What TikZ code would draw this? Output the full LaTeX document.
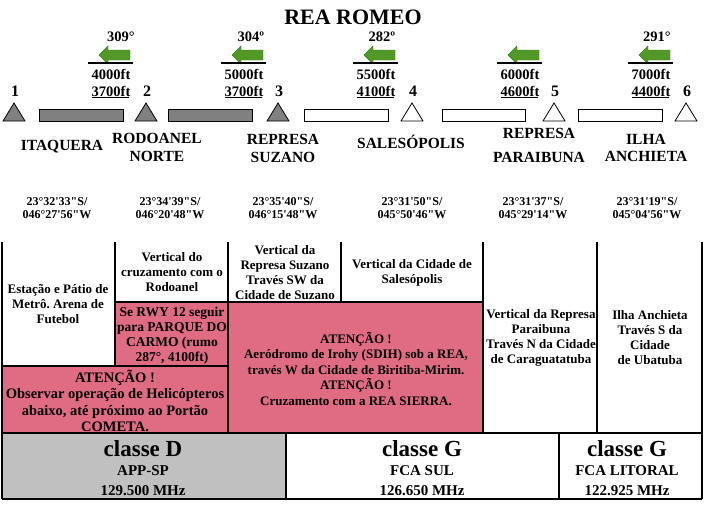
\documentclass[tikz,border=0pt]{standalone}
\usepackage{fontspec}
\setmainfont{Liberation Serif}[Ligatures=TeXOff]
\definecolor{pinkc}{RGB}{224,108,132}
\definecolor{grayc}{RGB}{192,192,192}
\definecolor{trig}{RGB}{128,128,128}
\definecolor{arrg}{RGB}{82,152,38}
\definecolor{arrd}{RGB}{58,118,30}
\newcommand\fsz[2]{\fontsize{#1}{#2}\selectfont\bfseries}
\frenchspacing
\begin{document}
\begin{tikzpicture}[x=1pt,y=-1pt,
  txt/.style={inner sep=0pt, align=center, font=\fsz{13}{15}},
  lbl/.style={inner sep=0pt, align=center, font=\fsz{15.5}{18}},
  crd/.style={inner sep=0pt, align=center, font=\fsz{12}{13.5}},
  ftt/.style={inner sep=0pt, font=\fsz{14.5}{17}},
  num/.style={inner sep=0pt, font=\fsz{16}{18}},
  tri/.style={draw=black, line width=0.8pt},
  barbox/.style={draw=black, line width=0.8pt},
  grid/.style={draw=black, line width=1.1pt},
  garrow/.style={fill=arrg, draw=arrd, line width=0.4pt},
  big/.style={inner sep=0pt, font=\fsz{23}{26}},
  mid/.style={inner sep=0pt, font=\fsz{15}{17}}]
\useasboundingbox (0,0) rectangle (707,506);

% title
\node[inner sep=0pt, font=\fsz{22}{24}] (title) at (353,17) {REA ROMEO};

% triangles and bars
\foreach \x/\c [count=\i] in {14/trig,146/trig,278/trig,412/white,554/white,686/white}{
  \draw[tri, fill=\c] (\x-11,121) -- (\x,103) -- (\x+11,121) -- cycle;
  \node[num] (n\i) at (\x+1,91) {\i};
}
\foreach \a/\b/\c in {39/123/trig,168/252/trig,304/388/white,442/525/white,578/662/white}{
  \draw[barbox, fill=\c] (\a,109) rectangle (\b,121);
}

% altitude blocks
\foreach \L/\up/\lo/\deg/\dx [count=\k] in {88/4000ft/3700ft/309°/33,221/5000ft/3700ft/304º/30,353/5500ft/4100ft/282º/29,497/6000ft/4600ft//0,628/7000ft/4400ft/291°/29}{
  \draw[garrow] (\L+11,55) -- (\L+20,46) -- (\L+20,50) -- (\L+42,50) -- (\L+42,60) -- (\L+20,60) -- (\L+20,64) -- cycle;
  \draw[line width=1.6pt] (\L,63) -- (\L+45,63);
  \node[ftt] (up\k) at (\L+23,74) {\up};
  \node[ftt] (lo\k) at (\L+23,91) {\lo};
  \draw[line width=1.4pt] (\L+4,97.5) -- (\L+41,97.5);
  \node[ftt] (dg\k) at (\L+\dx,37) {\deg};
}

% place names
\node[lbl] (p1) at (62,147) {ITAQUERA};
\node[lbl] (p2) at (157,147) {RODOANEL\\NORTE};
\node[lbl] (p3) at (283,148) {REPRESA\\SUZANO};
\node[lbl] (p4) at (411,142) {SALESÓPOLIS};
\node[lbl, font=\fsz{15.5}{24}] (p5) at (539,145) {REPRESA\\PARAIBUNA};
\node[lbl, font=\fsz{15.5}{17}] (p6) at (646,148) {ILHA\\ANCHIETA};

% coordinates
\node[crd] (c1) at (57,208) {23°32'33"S/\\046°27'56"W};
\node[crd] (c2) at (170,208) {23°34'39"S/\\046°20'48"W};
\node[crd] (c3) at (283,208) {23°35'40"S/\\046°15'48"W};
\node[crd] (c4) at (412,208) {23°31'50"S/\\045°50'46"W};
\node[crd] (c5) at (533,208) {23°31'37"S/\\045°29'14"W};
\node[crd] (c6) at (647,208) {23°31'19"S/\\045°04'56"W};

% table fills
\fill[pinkc] (115,302) rectangle (228,366);
\fill[pinkc] (228,302) rectangle (483,433);
\fill[pinkc] (2,366) rectangle (228,433);
\fill[grayc] (2,433) rectangle (286,499);

% table lines
\draw[grid] (2,242) -- (2,499);
\draw[grid] (115,242) -- (115,366);
\draw[grid] (228,242) -- (228,433);
\draw[grid] (341,242) -- (341,302);
\draw[grid] (483,242) -- (483,433);
\draw[grid] (597,242) -- (597,433);
\draw[grid] (702,242) -- (702,499);
\draw[grid] (115,302) -- (483,302);
\draw[grid] (2,366) -- (228,366);
\draw[grid] (2,433) -- (702,433);
\draw[grid] (2,499) -- (702,499);
\draw[grid] (286,433) -- (286,499);
\draw[grid] (559,433) -- (559,499);

% table texts
\node[txt] (t1) at (58,304) {Estação e Pátio de\\Metrô. Arena de\\Futebol};
\node[txt] (t2) at (172,272) {Vertical do\\cruzamento com o\\Rodoanel};
\node[txt, font=\fsz{13.5}{15}] (t2b) at (172,336) {Se RWY 12 seguir\\para PARQUE DO\\CARMO (rumo\\287°, 4100ft)};
\node[txt, font=\fsz{14.5}{16.5}] (t1b) at (115,401) {ATENÇÃO !\\Observar operação de Helicópteros\\abaixo, até próximo ao Portão\\COMETA.};
\node[txt] (t3) at (285,273) {Vertical da\\Represa Suzano\\Través SW da\\Cidade de Suzano};
\node[txt] (t4) at (412,273) {Vertical da Cidade de\\Salesópolis};
\node[txt, font=\fsz{13}{15.5}] (t34) at (356,369) {ATENÇÃO !\\Aeródromo de Irohy (SDIH) sob a REA,\\través W da Cidade de Biritiba-Mirim.\\ATENÇÃO !\\Cruzamento com a REA SIERRA.};
\node[txt] (t5) at (541,338) {Vertical da Represa\\Paraibuna\\Través N da Cidade\\de Caraguatatuba};
\node[txt] (t6) at (650,338) {Ilha Anchieta\\Través S da\\Cidade\\de Ubatuba};

% bottom row
\node[big] (bD) at (143,449) {classe D};
\node[mid] (bD2) at (143,471) {APP-SP};
\node[mid] (bD3) at (143,491) {129.500 MHz};
\node[big] (bG) at (422,449) {classe G};
\node[mid] (bG2) at (422,471) {FCA SUL};
\node[mid] (bG3) at (422,491) {126.650 MHz};
\node[big] (bL) at (627,449) {classe G};
\node[mid] (bL2) at (627,471) {FCA LITORAL};
\node[mid] (bL3) at (627,491) {122.925 MHz};
\end{tikzpicture}
\end{document}
